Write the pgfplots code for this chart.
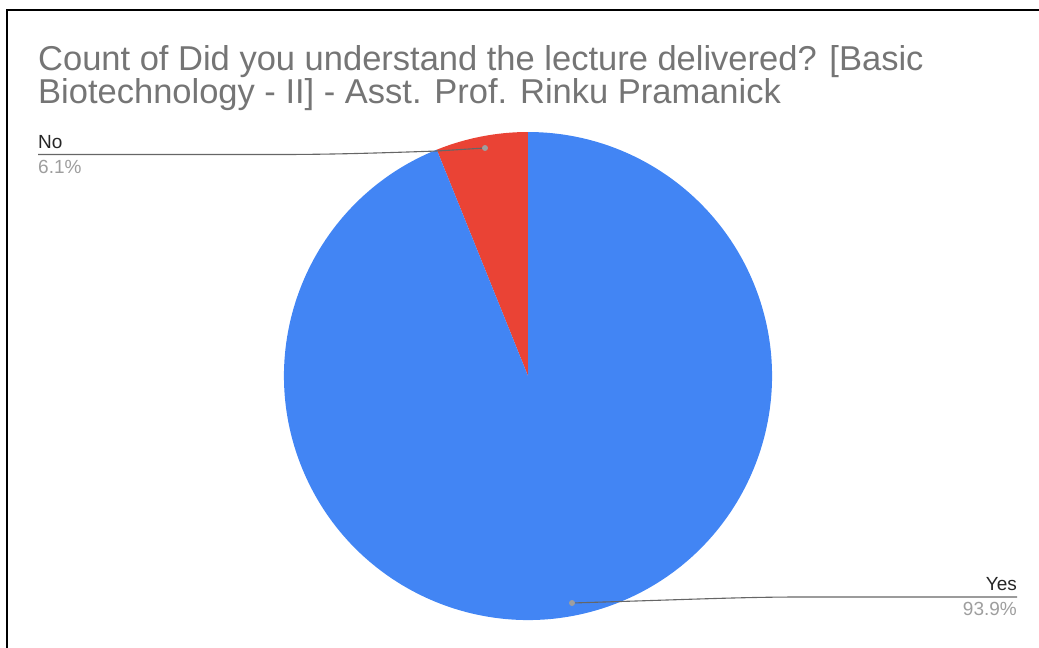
\documentclass[border=0pt]{standalone}
\usepackage{pgfplots}
\usepackage{pgfplotstable}
\pgfplotsset{compat=1.18}
\usepackage{fontspec}
\setmainfont{Liberation Sans}

\definecolor{pieblue}{HTML}{4285F4}
\definecolor{piered}{HTML}{EA4335}
\definecolor{titlegray}{HTML}{757575}
\definecolor{pctgray}{HTML}{9E9E9E}
\definecolor{leader}{HTML}{666666}

% answer shares in percent
\pgfplotstableread{
answer share
Yes 93.9
No 6.1
}\answers
\pgfplotstablegetelem{0}{share}\of\answers \let\yesval\pgfplotsretval
\pgfplotstablegetelem{1}{share}\of\answers \let\noval\pgfplotsretval
\pgfmathsetmacro\noend{90+3.6*\noval}
\pgfmathsetmacro\yesend{\noend+3.6*\yesval}

\begin{document}
\begin{tikzpicture}
\begin{axis}[
    name=pie,
    at={(0,0)}, anchor=south west,
    scale only axis,
    width=1039pt, height=648pt,
    xmin=0, xmax=1039, ymin=0, ymax=648,
    y dir=reverse,
    hide axis, clip=false,
]
% frame (top and left only)
\draw[black, line width=2pt] (axis cs:7,648) -- (axis cs:7,9.5) -- (axis cs:1039,9.5);

% title
\node[anchor=north west, text=titlegray, font=\fontsize{34.5}{30.5}\selectfont, align=left, inner sep=0pt]
  at (axis cs:38,45) {Count of Did you understand the lecture delivered? [Basic\\Biotechnology - II] - Asst. Prof. Rinku Pramanick};

% slices
\fill[piered] (axis cs:528,376) -- ++(90:244pt) arc[start angle=90, end angle=\noend, radius=244pt] -- cycle;
\fill[pieblue] (axis cs:528,376) -- ++(\noend:244pt) arc[start angle=\noend, end angle=\yesend, radius=244pt] -- cycle;

% leader lines
\draw[leader, line width=1.1pt] (axis cs:485,148) -- (axis cs:437,151)
  .. controls (axis cs:380,153) and (axis cs:330,154.5) .. (axis cs:280,154.5) -- (axis cs:38,154.5);
\fill[pctgray] (axis cs:485,148) circle[radius=3pt];
\draw[leader, line width=1.1pt] (axis cs:572,603) -- (axis cs:620,601.5)
  .. controls (axis cs:700,599) and (axis cs:750,597) .. (axis cs:800,597) -- (axis cs:1017,597);
\fill[pctgray] (axis cs:572,603) circle[radius=3pt];

% labels
\node[anchor=base west, inner sep=0pt, text=black!85, font=\fontsize{19}{22}\selectfont] at (axis cs:38,148.5) {No};
\node[anchor=base west, inner sep=0pt, text=pctgray, font=\fontsize{19}{22}\selectfont] at (axis cs:38,173) {6.1\%};
\node[anchor=base east, inner sep=0pt, text=black!85, font=\fontsize{19}{22}\selectfont] at (axis cs:1017,590) {Yes};
\node[anchor=base east, inner sep=0pt, text=pctgray, font=\fontsize{19}{22}\selectfont] at (axis cs:1017,615) {93.9\%};
\end{axis}
\pgfresetboundingbox
\path[use as bounding box] (pie.south west) rectangle (pie.north east);
\end{tikzpicture}
\end{document}
